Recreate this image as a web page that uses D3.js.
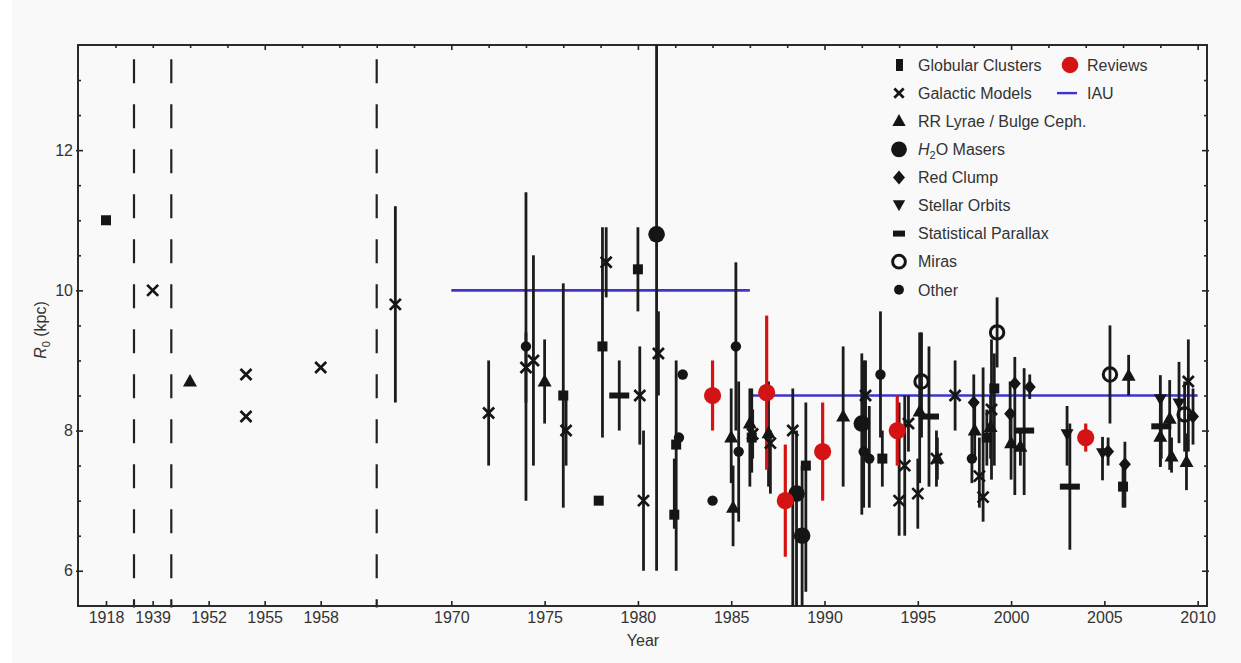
<!DOCTYPE html>
<html>
<head>
<meta charset="utf-8">
<script src="https://cdn.jsdelivr.net/npm/d3@7"></script>
<style>
  html, body { margin: 0; padding: 0; background: #f9f9f9; }
  svg { display: block; font-family: "Liberation Sans", Arial, Helvetica, sans-serif; }
</style>
</head>
<body>
<svg id="chart" width="1241" height="663"></svg>
<script>
// Measurements of the Galactic Centre distance R0 (kpc) by method.
// Each entry: [year, R0, lower error limit, upper error limit]
const globularClusters = [
  [1918, 11.0], [1976.0, 8.5, 6.9, 10.1], [1977.9, 7.0], [1978.1, 9.2, 7.9, 10.9],
  [1980.0, 10.3, 9.7, 10.9], [1981.95, 6.8, 6.6, 7.6], [1982.05, 7.8, 6.0, 9.0],
  [1986.1, 7.9, 7.4, 8.6], [1989.0, 7.5, 5.7, 8.4], [1993.1, 7.6, 7.2, 8.0],
  [1998.7, 7.9, 7.5, 8.3], [1999.1, 8.6, 7.5, 9.1], [2006.0, 7.2, 6.9, 7.5]
];
const galacticModels = [
  [1939, 10.0], [1954, 8.8], [1954, 8.2], [1958, 8.9], [1967, 9.8, 8.4, 11.2],
  [1972, 8.25, 7.5, 9.0], [1974.0, 8.9, 8.4, 9.4], [1974.4, 9.0, 7.5, 10.5],
  [1976.15, 8.0, 7.5, 8.5], [1978.3, 10.4, 9.9, 10.9], [1980.1, 8.5, 7.8, 9.2],
  [1980.3, 7.0, 6.0, 8.0], [1981.1, 9.1, 8.5, 9.7], [1986.15, 7.95, 7.6, 8.3],
  [1987.1, 7.82, 7.1, 8.0], [1988.3, 8.0, 5.0, 8.6], [1992.2, 8.5, 7.7, 9.0],
  [1994.0, 7.0, 6.5, 8.4], [1994.3, 7.5, 6.5, 8.5], [1994.5, 8.1, 7.7, 8.5],
  [1995.0, 7.1, 6.6, 7.6], [1996.0, 7.6, 7.2, 8.0], [1997.0, 8.5, 8.0, 9.0],
  [1998.3, 7.35, 6.9, 7.9], [1998.5, 7.05, 6.7, 8.9], [1998.95, 8.3, 7.3, 9.3],
  [2009.5, 8.7, 7.7, 9.3]
];
const rrLyraeBulgeCepheids = [
  [1951, 8.7], [1975.0, 8.7, 8.1, 9.3], [1985.0, 7.9, 7.25, 8.6], [1985.1, 6.9, 6.35, 7.5],
  [1986.0, 8.1, 7.2, 8.6], [1987.0, 7.96, 7.2, 8.7], [1991.0, 8.2, 7.2, 9.2],
  [1995.1, 8.27, 7.25, 9.4], [1996.05, 7.6, 7.3, 7.9], [1998.05, 8.0, 7.6, 8.4],
  [1998.9, 8.05, 7.6, 8.5], [2000.0, 7.82, 7.3, 8.3], [2000.5, 7.77, 7.5, 8.0],
  [2006.3, 8.78, 8.5, 9.08], [2008.0, 7.91, 7.5, 8.3], [2008.5, 8.17, 7.44, 8.72],
  [2008.6, 7.63, 7.4, 7.9], [2009.4, 7.55, 7.15, 7.96]
];
const h2oMasers = [
  [1981.0, 10.8, 6.0, 15.6], [1988.5, 7.1, 5.0, 8.0], [1988.8, 6.5, 5.0, 7.5], [1992.0, 8.1, 6.8, 9.1]
];
const redClump = [
  [1998.0, 8.4, 8.0, 8.8], [1999.95, 8.24, 7.8, 8.7], [2000.2, 8.67, 7.08, 9.05],
  [2001.0, 8.62, 8.45, 8.8], [2005.2, 7.7, 7.5, 7.9], [2006.1, 7.52, 6.9, 7.84],
  [2009.75, 8.2, 7.8, 8.6]
];
const stellarOrbits = [
  [2003.0, 7.94, 7.5, 8.35], [2004.9, 7.67, 7.29, 7.91], [2008.0, 8.44, 7.48, 8.79], [2009.0, 8.38, 7.82, 8.98]
];
const statisticalParallax = [
  [1979.0, 8.5, 8.0, 9.0], [1995.6, 8.2, 7.2, 9.2], [2000.7, 8.0, 7.08, 8.89],
  [2003.15, 7.2, 6.3, 8.1], [2008.05, 8.06, 7.6, 8.5]
];
const miras = [
  [1995.2, 8.7, 7.9, 9.4], [1999.25, 9.4, 8.9, 9.9], [2005.3, 8.8, 8.1, 9.5], [2009.3, 8.23, 7.7, 8.7]
];
const other = [
  [1974.0, 9.2, 7.0, 11.4], [1982.2, 7.9], [1982.4, 8.8], [1984.0, 7.0],
  [1985.25, 9.2, 8.0, 10.4], [1985.4, 7.7, 6.7, 8.7], [1992.1, 7.7, 6.9, 9.0],
  [1992.4, 7.6, 6.9, 8.35], [1993.0, 8.8, 7.9, 9.7], [1997.9, 7.6, 7.25, 7.95]
];
const reviews = [
  [1984.0, 8.5, 8.0, 9.0], [1986.9, 8.54, 7.44, 9.64], [1987.9, 7.0, 6.2, 7.8],
  [1989.9, 7.7, 7.0, 8.4], [1993.9, 8.0, 7.5, 8.5], [2004.0, 7.9, 7.7, 8.1]
];
// IAU recommended values: [from year, to year, R0]
const iauValues = [[1970, 1986, 10.0], [1986, 2010, 8.5]];

// Axis tick labels and the broken-axis segment limits
const yearTicks = [1918, 1939, 1952, 1955, 1958, 1970, 1975, 1980, 1985, 1990, 1995, 2000, 2005, 2010];
const axisBreaks = [1919.5, 1940, 1961];
const r0Ticks = [6, 6.5, 7, 7.5, 8, 8.5, 9, 9.5, 10, 10.5, 11, 11.5, 12, 12.5, 13];

const INK = "#151515", TEXT = "#333", RED = "#d41414", BLUE = "#3f33cc";
const plot = { left: 78, right: 1207, top: 45, bottom: 606 };

// Piecewise year scale: three compressed early windows, then 1966-2010.5
const x = d3.scaleLinear()
  .domain([1916.5, 1919.5, 1938, 1940, 1950, 1961, 1966, 2010.5])
  .range([78, 134, 134, 171.3, 171.3, 376.7, 376.7, 1207]);
// Uniform year scale used for the frame's top tick marks
const xFrame = d3.scaleLinear().domain([1966, 2010.5]).range([376.7, 1207]);
const y = d3.scaleLinear().domain([5.5, 13.5]).range([605.8, 45]);

const svg = d3.select("#chart");
svg.append("rect").attr("x", 0).attr("y", 0).attr("width", 12).attr("height", 663).attr("fill", "#fefefe");

svg.append("defs").append("clipPath").attr("id", "plotClip")
  .append("rect").attr("x", plot.left).attr("y", plot.top)
  .attr("width", plot.right - plot.left).attr("height", plot.bottom - plot.top);

// Dashed separators between the axis segments
svg.append("g").selectAll("line").data(axisBreaks).join("line")
  .attr("x1", d => x(d)).attr("x2", d => x(d))
  .attr("y1", 59.3).attr("y2", 607.5)
  .attr("stroke", "#222").attr("stroke-width", 2.2)
  .attr("stroke-dasharray", "24 21");

// Axes (ticks point inward)
const bottomAxis = d3.axisBottom(x).tickValues(yearTicks).tickFormat(d3.format("d"))
  .tickSizeInner(-5).tickSizeOuter(0).tickPadding(6);
const gb = svg.append("g").attr("transform", `translate(0,${plot.bottom})`).call(bottomAxis);
const leftAxis = d3.axisLeft(y).tickValues(r0Ticks)
  .tickFormat(d => (d % 2 === 0 ? d : "")).tickSizeInner(-3).tickSizeOuter(0).tickPadding(5);
const gl = svg.append("g").attr("transform", `translate(${plot.left},0)`).call(leftAxis);
const rightAxis = d3.axisRight(y).tickValues(r0Ticks).tickFormat("").tickSizeInner(-3).tickSizeOuter(0);
const gr = svg.append("g").attr("transform", `translate(${plot.right},0)`).call(rightAxis);
const topAxis = d3.axisTop(xFrame).tickValues(d3.range(1952, 2011, 2)).tickFormat("")
  .tickSizeInner(-3).tickSizeOuter(0);
const gt = svg.append("g").attr("transform", `translate(0,${plot.top})`).call(topAxis);

[gb, gl, gr, gt].forEach(g => {
  g.select(".domain").remove();
  g.selectAll(".tick line").attr("stroke", "#222").attr("stroke-width", 1.6);
  g.selectAll(".tick text").attr("fill", TEXT).attr("font-size", 16)
    .attr("font-family", "\"Liberation Sans\", Arial, sans-serif");
});
gl.selectAll(".tick line").filter(d => d % 2 === 0).attr("x1", -2).attr("x2", 5);
gr.selectAll(".tick line").filter(d => d % 2 === 0).attr("x1", 2).attr("x2", -5);
gt.selectAll(".tick line").filter(d => d % 10 === 0).attr("y2", 5);

// Frame
svg.append("rect").attr("x", plot.left).attr("y", plot.top)
  .attr("width", plot.right - plot.left).attr("height", plot.bottom - plot.top)
  .attr("fill", "none").attr("stroke", "#2a2a2a").attr("stroke-width", 2);

// Axis titles
const yTitle = svg.append("text").attr("transform", "translate(46,330) rotate(-90)")
  .attr("text-anchor", "middle").attr("fill", TEXT).attr("font-size", 16);
yTitle.append("tspan").attr("font-style", "italic").text("R");
yTitle.append("tspan").attr("font-size", 11).attr("dy", 4).text("0");
yTitle.append("tspan").attr("dy", -4).text(" (kpc)");
svg.append("text").attr("x", 643).attr("y", 646).attr("text-anchor", "middle")
  .attr("fill", TEXT).attr("font-size", 16).text("Year");

// Marker shapes
const markers = {
  square:   { d: s => `M${-5*s},${-5*s}h${10*s}v${10*s}h${-10*s}Z`, fill: INK },
  cross:    { d: s => `M${-5.5*s},${-5.5*s}L${5.5*s},${5.5*s}M${5.5*s},${-5.5*s}L${-5.5*s},${5.5*s}`, fill: "none", stroke: INK, sw: 2.7 },
  triangle: { d: s => `M0,${-7.5*s}L${7*s},${5*s}L${-7*s},${5*s}Z`, fill: INK },
  maser:    { d: s => d3.arc()({ innerRadius: 0, outerRadius: 8.3*s, startAngle: 0, endAngle: 2*Math.PI }), fill: INK },
  diamond:  { d: s => `M0,${-7*s}L${6*s},0L0,${7*s}L${-6*s},0Z`, fill: INK },
  down:     { d: s => `M0,${6*s}L${6.5*s},${-5.5*s}L${-6.5*s},${-5.5*s}Z`, fill: INK },
  parallax: { d: s => `M${-10*s},-3h${20*s}v6h${-20*s}Z`, fill: INK },
  mira:     { d: s => d3.arc()({ innerRadius: 0, outerRadius: 6.7*s, startAngle: 0, endAngle: 2*Math.PI }), fill: "none", stroke: INK, sw: 3 },
  other:    { d: s => d3.arc()({ innerRadius: 0, outerRadius: 5.2*s, startAngle: 0, endAngle: 2*Math.PI }), fill: INK }
};

const series = [
  { name: "Globular Clusters", kind: "square", data: globularClusters },
  { name: "Galactic Models", kind: "cross", data: galacticModels },
  { name: "RR Lyrae / Bulge Ceph.", kind: "triangle", data: rrLyraeBulgeCepheids },
  { name: "H2O Masers", kind: "maser", data: h2oMasers },
  { name: "Red Clump", kind: "diamond", data: redClump },
  { name: "Stellar Orbits", kind: "down", data: stellarOrbits },
  { name: "Statistical Parallax", kind: "parallax", data: statisticalParallax },
  { name: "Miras", kind: "mira", data: miras },
  { name: "Other", kind: "other", data: other }
];

function drawShape(g, kind, cx, cy, s, color) {
  const m = markers[kind];
  return g.append("path").attr("d", m.d(s))
    .attr("transform", `translate(${cx},${cy})`)
    .attr("fill", m.fill === "none" ? "none" : (color || m.fill))
    .attr("stroke", m.stroke ? (color || m.stroke) : "none")
    .attr("stroke-width", m.sw || 0);
}

const plotG = svg.append("g").attr("clip-path", "url(#plotClip)");

// IAU reference values
plotG.append("g").selectAll("line").data(iauValues).join("line")
  .attr("x1", d => x(d[0])).attr("x2", d => x(d[1]))
  .attr("y1", d => y(d[2])).attr("y2", d => y(d[2]))
  .attr("stroke", BLUE).attr("stroke-width", 2.6);

// Error bars
const withErr = series.flatMap(s => s.data.filter(d => d.length > 2));
plotG.append("g").selectAll("line").data(withErr).join("line")
  .attr("x1", d => x(d[0])).attr("x2", d => x(d[0]))
  .attr("y1", d => y(d[2])).attr("y2", d => y(d[3]))
  .attr("stroke", "#1c1c1c").attr("stroke-width", 2.8);
plotG.append("g").selectAll("line").data(reviews).join("line")
  .attr("x1", d => x(d[0])).attr("x2", d => x(d[0]))
  .attr("y1", d => y(d[2])).attr("y2", d => y(d[3]))
  .attr("stroke", RED).attr("stroke-width", 3.2);

// Markers
const markG = plotG.append("g");
series.forEach(s => s.data.forEach(d => drawShape(markG, s.kind, x(d[0]), y(d[1]), 1)));
markG.selectAll(null).data(reviews).join("circle")
  .attr("cx", d => x(d[0])).attr("cy", d => y(d[1])).attr("r", 8.6).attr("fill", RED);

// Legend
const legend = svg.append("g").attr("font-size", 16).attr("fill", TEXT);
const rowY = i => 65 + i * 28.1;
const legendScale = { square: 1, cross: 0.85, triangle: 0.95, maser: 0.95, diamond: 1, down: 0.95, parallax: 0.6, mira: 0.95, other: 0.95 };
series.forEach((s, i) => {
  if (s.kind === "square") {
    legend.append("rect").attr("x", 896).attr("y", rowY(i) - 6).attr("width", 7).attr("height", 12).attr("fill", INK);
  } else {
    drawShape(legend, s.kind, 899, rowY(i), legendScale[s.kind]);
  }
  const t = legend.append("text").attr("x", 918).attr("y", rowY(i)).attr("dy", "0.36em");
  if (s.kind === "maser") {
    t.append("tspan").attr("font-style", "italic").text("H");
    t.append("tspan").attr("font-size", 11).attr("dy", 4).text("2");
    t.append("tspan").attr("dy", -4).text("O Masers");
  } else {
    t.text(s.name);
  }
});
legend.append("circle").attr("cx", 1070).attr("cy", rowY(0)).attr("r", 8.3).attr("fill", RED);
legend.append("text").attr("x", 1087).attr("y", rowY(0)).attr("dy", "0.36em").text("Reviews");
legend.append("line").attr("x1", 1057).attr("x2", 1077).attr("y1", rowY(1)).attr("y2", rowY(1))
  .attr("stroke", BLUE).attr("stroke-width", 2.4);
legend.append("text").attr("x", 1087).attr("y", rowY(1)).attr("dy", "0.36em").text("IAU");
</script>
</body>
</html>
